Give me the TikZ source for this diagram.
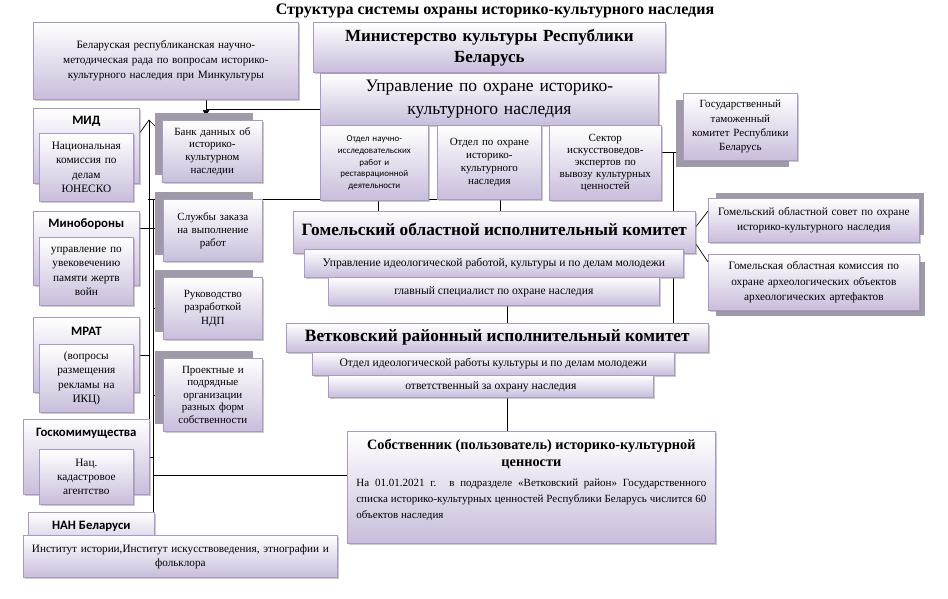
\documentclass[tikz,border=0pt]{standalone}
\usepackage{fontspec}
\setmainfont{Liberation Serif}
\newfontfamily\calfont{Carlito}
\usetikzlibrary{arrows.meta,shadows,backgrounds}

\definecolor{lav}{RGB}{201,189,219}
\definecolor{edge}{RGB}{170,152,198}
\definecolor{shd}{RGB}{160,154,168}

\newcommand\lift[1]{\par\vspace{#1}}

\tikzset{
	box/.style = {draw = edge, line width = 0.7pt, top color = white, bottom color = lav,
		align = center, anchor = north west, inner sep = 2pt,
		drop shadow = {shadow xshift = 2pt, shadow yshift = -2pt, fill = black!45, opacity = 0.45}},
	backdrop/.style = {fill = shd, draw = none},
	wire/.style = {black, line width = 0.7pt},
	txt/.style = {font = \fontsize{11}{12.7}\selectfont},
	small/.style = {font = \fontsize{11.6}{14}\selectfont},
	inner/.style = {font = \fontsize{11.3}{14.5}\selectfont},
	hd/.style = {font = \calfont\bfseries\fontsize{12.8}{15}\selectfont}
}

\begin{document}
\begin{tikzpicture}[x = 1pt, y = -1pt]
	\useasboundingbox (0, 0) rectangle (948, 598);
	
	%	title
	\node[font = \bfseries\fontsize{16}{18}\selectfont] (title) at (495, 11) {Структура системы охраны историко-культурного наследия};
	
	%	ministry
	\node[box, minimum width = 265, minimum height = 77, text width = 258, font = \fontsize{11.2}{15}\selectfont] (rada) at (33, 22) {Беларуская республиканская научно-\\методическая рада по вопросам историко-\\культурного наследия при Минкультуры};
	\node[box, minimum width = 352, minimum height = 50, text width = 345, font = \bfseries\fontsize{17}{21}\selectfont] (minkult) at (313, 22) {Министерство культуры Республики\\Беларусь};
	\node[box, minimum width = 338, minimum height = 52, text width = 332, font = \fontsize{17.5}{23}\selectfont] (upr) at (320, 73) {Управление по охране историко-\\культурного наследия};
	\node[box, minimum width = 108, minimum height = 75, text width = 104, font = \calfont\fontsize{9}{11.7}\selectfont] (otdA) at (320, 125) {Отдел научно-\\исследовательских\\работ и\\реставрационной\\деятельности};
	\node[box, minimum width = 103, minimum height = 74, text width = 100, font = \fontsize{11}{13}\selectfont] (otdB) at (437, 125) {Отдел по охране\\историко-\\культурного\\наследия\lift{12pt}};
	\node[box, minimum width = 111, minimum height = 75, text width = 108, font = \fontsize{11}{12}\selectfont] (sekt) at (549, 125) {Сектор\\искусствоведов-\\экспертов по\\вывозу культурных\\ценностей};
	
	%	customs
	\fill[backdrop] (676, 100) rectangle +(113, 67);
	\node[box, minimum width = 113, minimum height = 67, text width = 110, font = \fontsize{11}{14.3}\selectfont] (tamozh) at (683, 93) {Государственный\\таможенный\\комитет Республики\\Беларусь\lift{4pt}};
	
	%	services column
	\fill[backdrop] (155, 113) rectangle +(98, 62);
	\node[box, minimum width = 99, minimum height = 62, text width = 96, txt] (bank) at (162, 120) {Банк данных об\\историко-\\культурном\\наследии};
	\fill[backdrop] (155, 192) rectangle +(98, 63);
	\node[box, minimum width = 98, minimum height = 62, text width = 95, font = \fontsize{11}{13}\selectfont] (sluzhby) at (163, 199) {Службы заказа\\на выполнение\\работ\lift{12pt}};
	\fill[backdrop] (155, 270) rectangle +(98, 62);
	\node[box, minimum width = 98, minimum height = 62, text width = 95, font = \fontsize{11}{13.5}\selectfont] (rukov) at (163, 277) {Руководство\\разработкой\\НДП\lift{12pt}};
	\fill[backdrop] (155, 351) rectangle +(98, 73);
	\node[box, minimum width = 98, minimum height = 73, text width = 95, font = \fontsize{11}{12.5}\selectfont] (proekt) at (163, 358) {Проектные и\\подрядные\\организации\\разных форм\\собственности};
	
	%	ministries column
	\node[box, minimum width = 106, minimum height = 75] (mid) at (33, 108) {};
	\node[hd] (midT) at ([yshift = -13pt]mid.north) {МИД};
	\node[box, minimum width = 93, minimum height = 68, text width = 90, inner] (midIn) at (39, 133) {Национальная\\комиссия по\\делам\\ЮНЕСКО};
	
	\node[box, minimum width = 106, minimum height = 74] (mino) at (33, 211) {};
	\node[hd] (minoT) at ([yshift = -13pt]mino.north) {Минобороны};
	\node[box, minimum width = 93, minimum height = 68, text width = 90, inner] (minoIn) at (39, 237) {управление по\\увековечению\\памяти жертв\\войн};
	
	\node[box, minimum width = 106, minimum height = 75] (mrat) at (33, 317) {};
	\node[hd] (mratT) at ([yshift = -14pt]mrat.north) {МРАТ};
	\node[box, minimum width = 93, minimum height = 68, text width = 90, inner] (mratIn) at (39, 344) {(вопросы\\размещения\\рекламы на\\ИКЦ)};
	
	\node[box, minimum width = 126, minimum height = 75] (gos) at (23, 419) {};
	\node[hd] (gosT) at ([yshift = -14pt]gos.north) {Госкомимущества};
	\node[box, minimum width = 93, minimum height = 55, text width = 90, font = \fontsize{11.3}{14}\selectfont] (gosIn) at (39, 449) {Нац.\\кадастровое\\агентство};
	
	\node[box, minimum width = 126, minimum height = 40] (nan) at (28, 512) {};
	\node[hd] (nanT) at ([yshift = -14pt]nan.north) {НАН Беларуси};
	\node[box, minimum width = 314, minimum height = 42, text width = 310, font = \fontsize{11.2}{14}\selectfont] (inst) at (23, 535) {Институт истории,Институт искусствоведения, этнографии и\\фольклора};
	
	%	oblast
	\node[box, minimum width = 402, minimum height = 42, text depth = 7pt, font = \bfseries\fontsize{17.3}{20}\selectfont] (gomel) at (293, 211) {Гомельский областной исполнительный комитет};
	\node[box, minimum width = 379, minimum height = 28, small] (ideol) at (304, 249) {Управление идеологической работой, культуры и по делам молодежи};
	\node[box, minimum width = 331, minimum height = 28, small] (glav) at (328, 277) {главный специалист по охране наследия};
	
	\fill[backdrop] (716, 193) rectangle +(208, 42);
	\node[box, minimum width = 210, minimum height = 44, text width = 207, font = \fontsize{11.3}{15}\selectfont] (sovet) at (708, 198) {Гомельский областной совет по охране\\историко-культурного наследия\lift{6pt}};
	\fill[backdrop] (716, 262) rectangle +(209, 54);
	\node[box, minimum width = 210, minimum height = 56, text width = 207, font = \fontsize{11.3}{15.5}\selectfont] (komiss) at (708, 254) {Гомельская областная комиссия по\\охране археологических объектов\\археологических артефактов};
	
	%	rayon
	\node[box, minimum width = 422, minimum height = 29, font = \bfseries\fontsize{17.3}{20}\selectfont] (vetka) at (286, 323) {Ветковский районный исполнительный комитет};
	\node[box, minimum width = 362, minimum height = 23, small] (vetOtd) at (312, 352) {Отдел идеологической работы культуры и по делам молодежи};
	\node[box, minimum width = 325, minimum height = 22, small] (otv) at (328, 375) {ответственный за охрану наследия};
	
	%	owner
	\node[box, minimum width = 368, minimum height = 112] (sobstv) at (347, 431) {};
	\node[font = \bfseries\fontsize{14.3}{17}\selectfont, align = center] (sobstvT) at ([yshift = -23pt]sobstv.north) {Собственник (пользователь) историко-культурной\\ценности};
	\node[anchor = north, text width = 350, align = justify, font = \fontsize{11}{16}\selectfont, inner sep = 0pt] (sobstvB) at ([yshift = -48pt]sobstv.north) {На 01.01.2021 г. в подразделе «Ветковский район» Государственного\linebreak списка историко-культурных ценностей Республики Беларусь числится 60\linebreak объектов наследия};
	
	%	connectors
	\coordinate (apex) at (149, 120);
	\coordinate (trunkB) at (153, 199);
	\coordinate (drop) at (206, 0);
	\coordinate (axis) at (507, 0);
	\coordinate (riser) at (673, 0);
	\coordinate (gA) at (378, 199);
	\coordinate (gB) at (500, 199);
	\coordinate (tap) at ([yshift = 11pt]sekt.east);
	\coordinate (own) at ([yshift = 12pt]sobstv.west);
	
	\begin{scope}[on background layer]
		\draw[wire, -{Latex[length = 7pt, width = 7pt]}] (rada.south -| drop) -- ([yshift = 3pt]bank.north -| drop);
		\draw[wire] ([yshift = -10pt]upr.west) -- ([yshift = -10pt]upr.west -| drop);
		\draw[wire] ([yshift = -25pt]mid.north east) -- (apex) -- ([yshift = -13pt]bank.north west);
		\draw[wire] (apex) -- (apex |- gos.north);
		\draw[wire] (trunkB) -- (trunkB |- inst.north);
		\draw[wire] ([xshift = -1pt]apex |- gA) -- (gB) -- (gB |- gomel.north);
		\draw[wire] (gA) -- (gA |- gomel.north);
		\draw[wire] ([yshift = -17pt]mino.north east) -- ([yshift = -17pt]mino.north east -| sluzhby.west);
		\draw[wire] (trunkB |- rukov.west) -- (rukov.west);
		\draw[wire] (mrat.east) -- (mrat.east -| apex);
		\draw[wire] (trunkB |- proekt.west) -- (proekt.west);
		\draw[wire] (gos.east) -- (gos.east -| trunkB);
		\draw[wire] (trunkB |- own) -- (own);
		\draw[wire] (tap) -- (tap -| tamozh.west);
		\draw[wire] (tap -| riser) -- (riser |- vetka.north);
		\draw[wire] ([yshift = -16pt]gomel.north east) -- ([yshift = -13pt]sovet.north west);
		\draw[wire] ([yshift = 10pt]gomel.south east) -- ([yshift = -8pt]komiss.north west);
		\draw[wire] (glav.south -| axis) -- (vetka.north -| axis);
		\draw[wire] (otv.south -| axis) -- (sobstv.north -| axis);
	\end{scope}
\end{tikzpicture}
\end{document}
